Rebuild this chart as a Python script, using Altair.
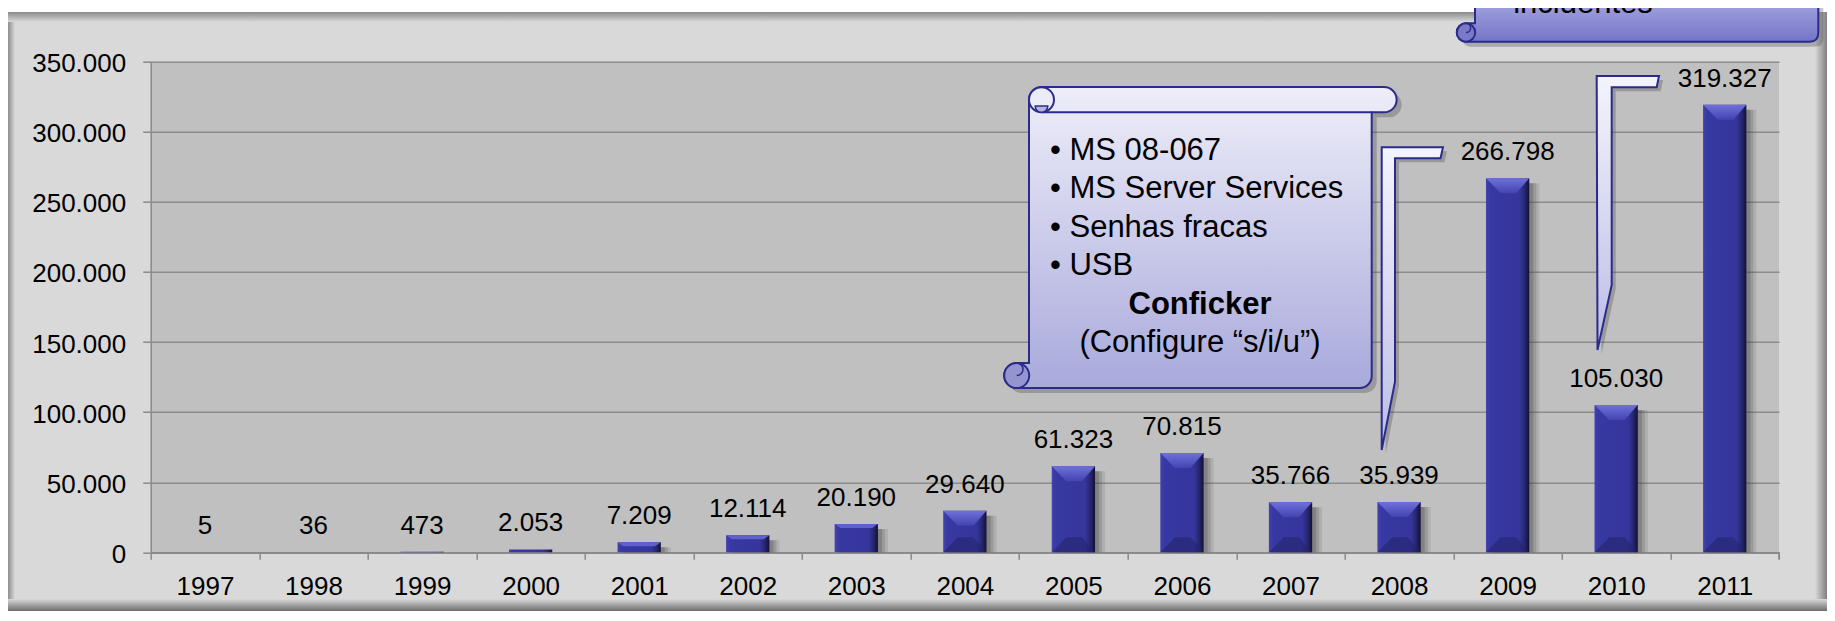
import altair as alt
import pandas as pd

# ---------------- data ----------------
years = ["1997", "1998", "1999", "2000", "2001", "2002", "2003", "2004",
         "2005", "2006", "2007", "2008", "2009", "2010", "2011"]
incidents = [5, 36, 473, 2053, 7209, 12114, 20190, 29640,
             61323, 70815, 35766, 35939, 266798, 105030, 319327]
y_ticks = [0, 50000, 100000, 150000, 200000, 250000, 300000, 350000]
callout_bullets = ["• MS 08-067", "• MS Server Services", "• Senhas fracas", "• USB"]
callout_title = "Conficker"
callout_sub = "(Configure \u201cs/i/u\u201d)"
corner_text = "incidentes"

df = pd.DataFrame({"year": years, "incidents": incidents})
one = alt.Data(values=[{"k": 0}])

FONT = "Liberation Sans"
W, H = 1628.3, 490.6          # plot area
PX0, PY0 = 150.7, 61.7        # plot origin in page pixels
CW, CH = 1819, 603            # whole chart

def p(x, y, dx=0.0, dy=0.0):
    return f"{x - PX0 + dx:.2f},{y - PY0 + dy:.2f}"

def vgrad(c0, c1):
    return alt.LinearGradient(gradient="linear", x1=0, x2=0, y1=0, y2=1,
                              stops=[alt.GradientStop(color=c0, offset=0),
                                     alt.GradientStop(color=c1, offset=1)])

def hgrad(stops):
    return alt.LinearGradient(gradient="linear", x1=0, x2=1, y1=0, y2=0,
                              stops=[alt.GradientStop(color=c, offset=o) for o, c in stops])

def shape(path, filled=True, **kw):
    return alt.Chart(one).mark_point(shape=path, size=4, filled=filled, opacity=1, **kw).encode(
        x=alt.value(0), y=alt.value(0))

def rect(x0, x1, y0, y1, **kw):
    return alt.Chart(one).mark_rect(**kw).encode(
        x=alt.value(x0 - PX0), x2=alt.value(x1 - PX0),
        y=alt.value(y0 - PY0), y2=alt.value(y1 - PY0))

def label(txt, x, y, **kw):
    return alt.Chart(one).mark_text(text=txt, font=FONT, color="black", **kw).encode(
        x=alt.value(x - PX0), y=alt.value(y - PY0))

fmt = "replace(format(datum.value, ','), ',', '.')"

base = alt.Chart(df)
x_enc = alt.X("year:O", title=None,
              scale=alt.Scale(paddingInner=0, paddingOuter=0),
              axis=alt.Axis(labelAngle=0, tickBand="extent", tickSize=7, labelPadding=14,
                            grid=False, domainWidth=1.5, tickWidth=1.5))
y_enc = alt.Y("incidents:Q", title=None,
              scale=alt.Scale(domain=[0, 350000], nice=False),
              axis=alt.Axis(values=y_ticks, labelExpr=fmt, tickSize=8, labelPadding=17,
                            labelOffset=2, grid=True, gridWidth=1.5, domainWidth=1.5,
                            tickWidth=1.5))

# ---------------- frame bevels ----------------
frame = [
    rect(0, 1830, 8, 12, fill="white"),
    rect(5, 15, 12, 613, fill=hgrad([(0, "#6e6e6e"), (1, "#d9d9d9")])),
    rect(5, 1830, 12, 22, fill=vgrad("#8a8a8a", "#d9d9d9")),
    rect(1815, 1830, 12, 613, fill=hgrad([(0, "#d9d9d9"), (1, "#6a6a6a")])),
    rect(5, 1830, 599, 613, fill=vgrad("#d9d9d9", "#5a5a5a")),
]

# ---------------- bars ----------------
big = base.transform_filter("datum.incidents >= 5000")
shadows = [
    big.mark_bar(size=43.3, xOffset=o, yOffset=5, color="#3c3c3c", opacity=a).encode(
        x=x_enc, y=y_enc, y2=alt.datum(0))
    for o, a in [(10, 0.12), (7, 0.18), (4, 0.25)]
]
bars = base.mark_bar(size=43.3, fill=hgrad([(0, "#4242b0"), (0.1, "#3838a2"), (0.78, "#35359c"),
                                             (0.9, "#25256e"), (1, "#111133")])).encode(
    x=x_enc, y=y_enc, y2=alt.datum(0))

top_bevel = base.transform_filter("datum.incidents >= 25000").mark_point(
    shape="M-21.6,0 L21.6,0 L8.5,15 L-7,15 Z", size=4, filled=True, opacity=1,
    fill=vgrad("#7070dc", "#4444b0")).encode(x=x_enc, y=y_enc)
bot_bevel = base.transform_filter("datum.incidents >= 25000").mark_point(
    shape="M-21.6,0 L21.6,0 L8.5,-15 L-7,-15 Z", size=4, filled=True, opacity=0.55,
    fill="#22226a").encode(x=x_enc, y=alt.datum(0))
small_bevel = base.transform_filter("datum.incidents >= 5000 && datum.incidents < 25000").mark_point(
    shape="M-21.6,0 L21.6,0 L16,4 L-16,4 Z", size=4, filled=True, opacity=1,
    fill="#6060cc").encode(x=x_enc, y=y_enc)

values = base.transform_calculate(
    lab="replace(format(datum.incidents, ','), ',', '.')").mark_text(
    font=FONT, fontSize=26, dy=-18, baseline="alphabetic", color="black").encode(
    x=x_enc, y=y_enc, text="lab:N")

end_tick = alt.Chart(one).mark_rule(color="#8a8a8a", strokeWidth=1.5).encode(
    x=alt.value(W), y=alt.value(H), y2=alt.value(H + 7))

# ---------------- callout pointers ----------------
ptr_fill = vgrad("#f4f4fc", "#bcbce6")
STROKE = "#2b2b8c"

def ptr(pts, d=0.0):
    return "M" + " L".join(p(x, y, d, d) for x, y in pts) + " Z"

ptr2008_pts = [(1381.7, 147.3), (1443, 147.3), (1440.5, 158.3), (1395, 158.3),
               (1395, 381.7), (1381.7, 450)]
ptr2010_pts = [(1596.7, 76), (1659, 76), (1656.7, 87.3), (1611.7, 87.3),
               (1611.7, 285), (1597.5, 350)]

# ---------------- big scroll ----------------
def scroll_path(d=0.0):
    return (f"M{p(1041.5,87,d,d)} L{p(1384,87,d,d)} A12.65,12.65 0 0 1 {p(1384,112.3,d,d)} "
            f"L{p(1371.7,112.3,d,d)} L{p(1371.7,376,d,d)} A12,12 0 0 1 {p(1359.7,388,d,d)} "
            f"L{p(1016.7,388,d,d)} A12.5,12.5 0 0 1 {p(1016.7,363,d,d)} L{p(1029,363,d,d)} "
            f"L{p(1029,99.5,d,d)} A12.5,12.5 0 0 1 {p(1041.5,87,d,d)} Z")

scroll_line = f"M{p(1041.5,112.3)} L{p(1371.7,112.3)}"
curl_tl = f"M{p(1029,99.7)} A12.5,12.5 0 1 1 {p(1054,99.7)} A12.5,12.5 0 1 1 {p(1029,99.7)} Z"
curl_tl_in = f"M{p(1035.2,106)} A6.3,6.3 0 0 0 {p(1047.8,106)} Z"
curl_bl = f"M{p(1004.2,375.5)} A12.5,12.5 0 1 1 {p(1029.2,375.5)} A12.5,12.5 0 1 1 {p(1004.2,375.5)} Z"
curl_bl_in = f"M{p(1016.7,363)} A6.3,6.3 0 0 1 {p(1016.7,375.6)}"

# ---------------- corner scroll (top right) ----------------
def corner_path(d=0.0):
    return (f"M{p(1475,-10,d,d)} L{p(1818.3,-10,d,d)} L{p(1818.3,33,d,d)} "
            f"Q{p(1818.3,41.7,d,d)} {p(1809.6,41.7,d,d)} L{p(1466,41.7,d,d)} "
            f"A9.2,9.2 0 0 1 {p(1466,23.3,d,d)} L{p(1475,23.3,d,d)} Z")

curl_tr = f"M{p(1456.8,32.5)} A9.2,9.2 0 1 1 {p(1475.2,32.5)} A9.2,9.2 0 1 1 {p(1456.8,32.5)} Z"
curl_tr_in = f"M{p(1466,23.3)} A4.6,4.6 0 0 1 {p(1466,32.5)}"

decor = [
    shape(ptr(ptr2008_pts, 4), fill="#404040", fillOpacity=0.3),
    shape(ptr(ptr2010_pts, 4), fill="#404040", fillOpacity=0.3),
    shape(ptr(ptr2008_pts), fill=ptr_fill, stroke=STROKE, strokeWidth=2),
    shape(ptr(ptr2010_pts), fill=ptr_fill, stroke=STROKE, strokeWidth=2),
    shape(scroll_path(5), fill="#404040", fillOpacity=0.3),
    shape(scroll_path(), fill=vgrad("#eeeef9", "#a9a9dc"), stroke=STROKE, strokeWidth=2),
    shape(scroll_line, filled=False, stroke=STROKE, strokeWidth=2),
    shape(curl_tl, fill="#ececf8", stroke=STROKE, strokeWidth=2),
    shape(curl_tl_in, fill="#b4b4dc", stroke=STROKE, strokeWidth=1.5),
    shape(curl_bl, fill="#9494cf", stroke=STROKE, strokeWidth=2),
    shape(curl_bl_in, filled=False, stroke=STROKE, strokeWidth=1.5),
    shape(corner_path(5), fill="#404040", fillOpacity=0.3),
    shape(corner_path(), fill=vgrad("#b0b0e8", "#7474c8"), stroke=STROKE, strokeWidth=2),
    shape(curl_tr, fill="#7a7ac6", stroke=STROKE, strokeWidth=2),
    shape(curl_tr_in, filled=False, stroke=STROKE, strokeWidth=1.5),
]

texts = []
base_y = 160.0
step = 38.4
for i, t in enumerate(callout_bullets):
    texts.append(label(t, 1050, base_y + i * step, fontSize=31, align="left", baseline="alphabetic"))
texts.append(label(callout_title, 1200, base_y + 4 * step, fontSize=31, fontWeight="bold",
                   align="center", baseline="alphabetic"))
texts.append(label(callout_sub, 1200, base_y + 5 * step, fontSize=31,
                   align="center", baseline="alphabetic"))
texts.append(label(corner_text, 1583, 13.3, fontSize=31, align="center", baseline="alphabetic"))

chart = alt.layer(
    *frame, *shadows, bars, top_bevel, bot_bevel, small_bevel, values, end_tick, *decor, *texts
).properties(
    width=W, height=H,
    background="#d9d9d9",
    autosize=alt.AutoSizeParams(type="none"),
    padding={"left": PX0 - 8, "top": PY0 - 8, "right": CW - (PX0 - 8) - W,
             "bottom": CH - (PY0 - 8) - H},
).configure_view(
    fill="#c0c0c0", strokeWidth=0
).configure_axis(
    labelFont=FONT, labelFontSize=26, labelColor="black",
    domainColor="#8a8a8a", tickColor="#8a8a8a", gridColor="#8c8c8c"
)

chart.save("out.html", embed_options={"renderer": "svg", "actions": False})
